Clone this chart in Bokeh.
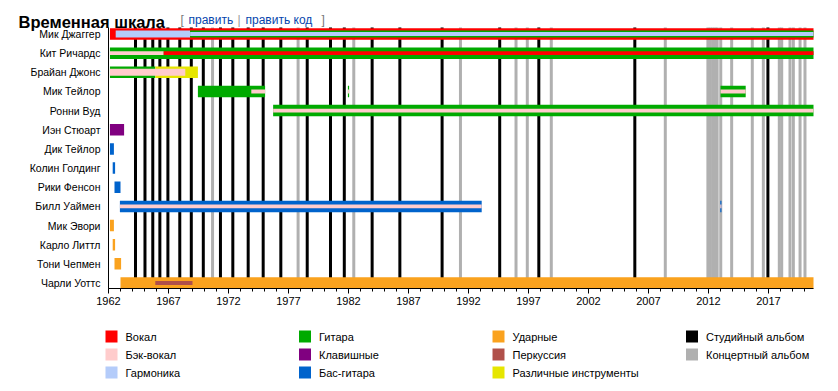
from bokeh.plotting import figure
from bokeh.models import Range1d, FixedTicker, ColumnDataSource
from bokeh.core.properties import value
from bokeh.embed import file_html
from bokeh.resources import INLINE

FONT = "Liberation Sans"
END = 2020.75

members = ["Мик Джаггер", "Кит Ричардс", "Брайан Джонс", "Мик Тейлор", "Ронни Вуд",
           "Иэн Стюарт", "Дик Тейлор", "Колин Голдинг", "Рики Фенсон", "Билл Уаймен",
           "Мик Эвори", "Карло Литтл", "Тони Чепмен", "Чарли Уоттс"]

roles = ["Вокал", "Бэк-вокал", "Гармоника", "Гитара", "Клавишные", "Бас-гитара",
         "Ударные", "Перкуссия", "Различные инструменты"]
role_colors = ["#FF0000", "#FFCCCC", "#B4CCFA", "#00AA00", "#800080", "#0063CC",
               "#FAA21E", "#B0504A", "#E6E600"]

# main (widest) bars: member, from, till, role
bars_main = [
    ("Мик Джаггер", 1962.12, END, "Вокал"),
    ("Кит Ричардс", 1962.12, END, "Гитара"),
    ("Брайан Джонс", 1962.12, 1965.9, "Гитара"),
    ("Брайан Джонс", 1965.9, 1969.45, "Различные инструменты"),
    ("Мик Тейлор", 1969.45, 1975.05, "Гитара"),
    ("Мик Тейлор", 1981.95, 1982.05, "Гитара"),
    ("Мик Тейлор", 2013.0, 2015.1, "Гитара"),
    ("Ронни Вуд", 1975.72, END, "Гитара"),
    ("Иэн Стюарт", 1962.12, 1963.3, "Клавишные"),
    ("Дик Тейлор", 1962.12, 1962.45, "Бас-гитара"),
    ("Колин Голдинг", 1962.35, 1962.55, "Бас-гитара"),
    ("Рики Фенсон", 1962.5, 1963.0, "Бас-гитара"),
    ("Билл Уаймен", 1962.95, 1993.1, "Бас-гитара"),
    ("Билл Уаймен", 2012.98, 2013.08, "Бас-гитара"),
    ("Мик Эвори", 1962.12, 1962.45, "Ударные"),
    ("Карло Литтл", 1962.35, 1962.55, "Ударные"),
    ("Тони Чепмен", 1962.5, 1963.05, "Ударные"),
    ("Чарли Уоттс", 1963.0, END, "Ударные"),
]
bars_second = [
    ("Мик Джаггер", 1962.6, 1968.8, "Гармоника"),
    ("Мик Джаггер", 1968.8, END, "Гитара"),
    ("Брайан Джонс", 1962.12, 1968.4, "Бэк-вокал"),
]
bars_third = [
    ("Мик Джаггер", 1968.8, END, "Гармоника"),
    ("Кит Ричардс", 1962.12, 1966.6, "Бэк-вокал"),
    ("Кит Ричардс", 1966.6, END, "Вокал"),
    ("Мик Тейлор", 1973.9, 1975.05, "Бэк-вокал"),
    ("Мик Тейлор", 1981.95, 1982.05, "Бэк-вокал"),
    ("Мик Тейлор", 2013.0, 2015.1, "Бэк-вокал"),
    ("Ронни Вуд", 1975.72, END, "Бэк-вокал"),
    ("Билл Уаймен", 1962.95, 1993.1, "Бэк-вокал"),
    ("Билл Уаймен", 2012.98, 2013.08, "Бэк-вокал"),
    ("Чарли Уоттс", 1965.9, 1969.0, "Перкуссия"),
]

studio_albums = [1964.25, 1965.04, 1965.69, 1966.28, 1966.95, 1967.94, 1968.9, 1969.9,
                 1971.33, 1972.36, 1973.64, 1974.89, 1976.36, 1978.56, 1980.5, 1981.65,
                 1983.97, 1986.28, 1989.8, 1994.6, 1997.86, 2005.86, 2016.95]
live_albums = [1970.67, 1977.8, 1982.44, 1991.33, 1995.96, 1996.9, 1998.9, 2008.4,
               2011.95, 2012.15, 2012.35, 2012.55, 2012.72, 2013.02, 2013.93, 2015.65,
               2016.57, 2017.9, 2018.1, 2018.79, 2019.07, 2019.63, 2020.04]
album_labels = ["Студийный альбом", "Концертный альбом"]
album_colors = ["#000000", "#B0B0B0"]

tick_years = [1962, 1967, 1972, 1977, 1982, 1987, 1992, 1997, 2002, 2007, 2012, 2017]
minor_years = list(range(1962, 2021))

W, H = 834, 388
PX_PER_YEAR = 12.0
PX_PER_ROW = 19.154
X0_PAGE = 108.0      # page x of 1962
ROW0_PAGE = 33.5     # page y of first row centre


def year_at(px):
    return 1962 + (px - X0_PAGE) / PX_PER_YEAR


def row_at(py):
    return (py - ROW0_PAGE) / PX_PER_ROW


Y_TOP = row_at(27)
Y_BOT = row_at(288)

p = figure(width=W, height=H,
           x_range=Range1d(year_at(0), year_at(W)),
           y_range=Range1d(row_at(H), row_at(0)),
           toolbar_location=None, output_backend="svg",
           min_border=0, min_border_left=0, min_border_right=0,
           min_border_top=0, min_border_bottom=0)
p.outline_line_color = None
p.grid.visible = False
p.background_fill_color = "white"
# pixel-space helper ranges for title and legend
p.extra_x_ranges = {"px": Range1d(0, W)}
p.extra_y_ranges = {"py": Range1d(H, 0)}

# album lines
p.segment(x0=live_albums, x1=live_albums, y0=Y_BOT, y1=Y_TOP,
          line_color=album_colors[1], line_width=3)
p.segment(x0=studio_albums, x1=studio_albums, y0=Y_BOT, y1=Y_TOP,
          line_color=album_colors[0], line_width=3)


def add_bars(bars, h):
    src = ColumnDataSource(dict(
        y=[members.index(b[0]) for b in bars],
        left=[b[1] for b in bars],
        right=[b[2] for b in bars],
        color=[role_colors[roles.index(b[3])] for b in bars],
    ))
    p.hbar(y="y", left="left", right="right", height=h, fill_color="color",
           line_color=None, source=src)


add_bars(bars_main, 0.6)
add_bars(bars_second, 0.37)
add_bars(bars_third, 0.2)

xa = p.xaxis[0]
xa.fixed_location = Y_BOT
xa.bounds = (1962, END)
xa.ticker = FixedTicker(ticks=tick_years, minor_ticks=minor_years)
xa.axis_line_color = "#000000"
xa.major_tick_in = 0
xa.major_tick_out = 5
xa.minor_tick_in = 0
xa.minor_tick_out = 3
xa.major_label_text_font = FONT
xa.major_label_text_font_size = "11px"
xa.major_label_text_color = "#000000"
xa.major_label_standoff = 3

ya = p.yaxis[0]
ya.fixed_location = 1962
ya.bounds = (Y_TOP, Y_BOT)
ya.ticker = FixedTicker(ticks=list(range(len(members))), minor_ticks=[])
ya.major_label_overrides = {i: m for i, m in enumerate(members)}
ya.axis_line_color = "#000000"
ya.major_tick_in = 0
ya.major_tick_out = 0
ya.minor_tick_out = 0
ya.major_label_standoff = 8
ya.major_label_text_font = FONT
ya.major_label_text_font_size = "10.5px"
ya.major_label_text_color = "#000000"

# ---------------- title (page pixel coordinates) ----------------
p.text(x=[18], y=[21], text=["Временная шкала"], text_font=value(FONT),
       text_font_size="16.5px", text_font_style="bold", text_color="#000000",
       text_baseline="alphabetic", x_range_name="px", y_range_name="py")
p.text(x=[180, 321], y=[19.5, 19.5], text=["[", "]"], text_font=value(FONT),
       text_font_size="12px", text_color="#777777", text_baseline="alphabetic",
       x_range_name="px", y_range_name="py")
p.text(x=[237], y=[19.5], text=["|"], text_font=value(FONT),
       text_font_size="12px", text_color="#999999", text_baseline="alphabetic",
       x_range_name="px", y_range_name="py")
p.text(x=[188, 245], y=[19.5, 19.5], text=["править", "править код"], text_font=value(FONT),
       text_font_size="12px", text_color="#0645AD", text_baseline="alphabetic",
       x_range_name="px", y_range_name="py")

# ---------------- legend (page pixel coordinates) ----------------
col_x = [111, 304.5, 498, 691.5]
row_y = [336, 354, 372]
names = roles + album_labels
cols = role_colors + album_colors
sx, sy, tx = [], [], []
for k in range(len(names)):
    c, r = divmod(k, 3)
    sx.append(col_x[c])
    sy.append(row_y[r])
    tx.append(col_x[c] + 14)
p.rect(x=sx, y=sy, width=12, height=12, fill_color=cols, line_color=None,
       x_range_name="px", y_range_name="py")
p.text(x=tx, y=sy, text=names, text_font=value(FONT), text_font_size="11px",
       text_color="#000000", text_baseline="middle", text_align="left",
       x_range_name="px", y_range_name="py")

open("out.html", "w").write(file_html(p, INLINE))
